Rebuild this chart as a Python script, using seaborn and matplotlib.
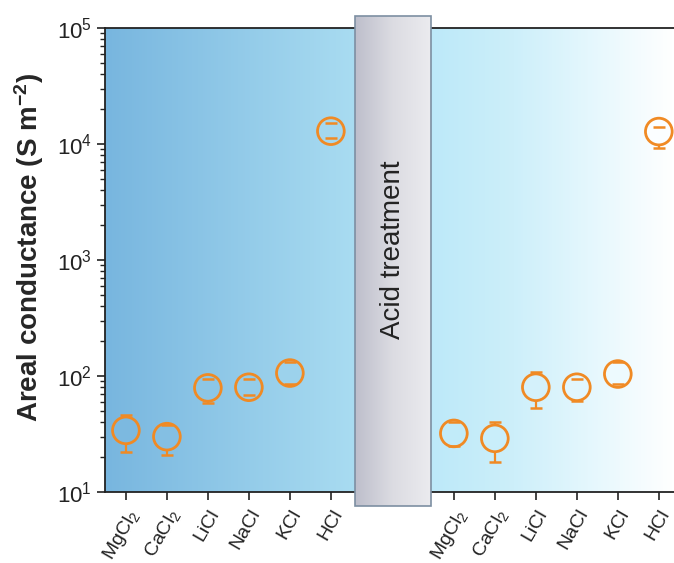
import numpy as np
import pandas as pd
import matplotlib
matplotlib.use("Agg")
import matplotlib.pyplot as plt
import seaborn as sns
from matplotlib.colors import LinearSegmentedColormap
from matplotlib.patches import Rectangle
import matplotlib.ticker as mticker

sns.set_style("ticks")
plt.rcParams['font.family'] = ['Liberation Sans', 'DejaVu Sans']
plt.rcParams['mathtext.fontset'] = 'custom'
plt.rcParams['mathtext.rm'] = 'Liberation Sans'
plt.rcParams['mathtext.it'] = 'Liberation Sans:italic'
plt.rcParams['mathtext.bf'] = 'Liberation Sans:bold'

# ---- data ----
salts = ["MgCl$_2$", "CaCl$_2$", "LiCl", "NaCl", "KCl", "HCl"]
before_val = [34, 30, 79, 80, 106, 12900]
before_lo = [22, 21, 58, 68, 85, 11200]
before_hi = [46, 38, 95, 94, 132, 15100]
after_val = [32, 29, 80, 80, 104, 12800]
after_lo = [25, 18, 53, 61, 85, 9250]
after_hi = [40, 40, 108, 95, 132, 14000]

pos_before = np.arange(6)
pos_after = np.arange(6) + 8

df = pd.DataFrame({
    "pos": np.concatenate([pos_before, pos_after]),
    "val": before_val + after_val,
    "lo": before_lo + after_lo,
    "hi": before_hi + after_hi,
})

orange = "#f08a24"
XMIN, XMAX = -0.51, 13.37

fig = plt.figure(figsize=(6.74, 5.63), dpi=100)
ax = fig.add_axes([105/674, 1-492/563, 569/674, 464/563])

ax.set_yscale("log")
ax.set_ylim(10, 1e5)
ax.set_xlim(XMIN, XMAX)

# background gradient
cmap = LinearSegmentedColormap.from_list("bg", [
    (0.0, "#78b6df"), (0.44, "#a9dcf1"), (0.57, "#bce9f9"),
    (0.72, "#cdeffa"), (0.85, "#e4f7fd"), (1.0, "#ffffff")])
grad = np.linspace(0, 1, 512).reshape(1, -1)
ax.imshow(grad, cmap=cmap, aspect="auto", extent=[0, 1, 0, 1],
          transform=ax.transAxes, zorder=0)

# error bars: stems below markers, caps above
eb = ax.errorbar(df["pos"], df["val"],
                 yerr=[df["val"] - df["lo"], df["hi"] - df["val"]],
                 fmt="none", ecolor=orange, elinewidth=1.6, capsize=4.5,
                 capthick=1.8)
for c in eb[2]:
    c.set_zorder(3)
for c in eb[1]:
    c.set_zorder(6)

face = [cmap((p - XMIN) / (XMAX - XMIN)) for p in df["pos"]]
sns.scatterplot(data=df, x="pos", y="val", ax=ax, marker="o", s=370,
                color=face, edgecolor=orange, linewidth=2.0, zorder=5,
                legend=False)
ax.collections[-1].set_facecolors(face)

# acid treatment box
box_ax = fig.add_axes([0, 0, 1, 1], zorder=3)
box_ax.set_xlim(0, 674); box_ax.set_ylim(563, 0); box_ax.axis("off")
boxgrad = LinearSegmentedColormap.from_list("box", ["#bdbecb", "#dcdce2", "#ebebef"])
box_ax.imshow(np.linspace(0, 1, 256).reshape(1, -1), cmap=boxgrad, aspect="auto",
              extent=[355, 431, 506, 16], zorder=1)
box_ax.add_patch(Rectangle((355, 16), 76, 490, fill=False, edgecolor="#7d8fa2", lw=1.2, zorder=2))
box_ax.text(393, 250, "Acid treatment", rotation=90, ha="center", va="center",
            fontsize=20, color="#222222")

ax.set_xticks(np.concatenate([pos_before, pos_after]))
ax.set_xticklabels(salts + salts, rotation=60, ha="right", rotation_mode="anchor",
                   fontsize=14, color="#222222")
ax.yaxis.set_major_locator(mticker.LogLocator(base=10, numticks=10))
ax.yaxis.set_minor_locator(mticker.LogLocator(base=10, subs=np.arange(2, 10), numticks=10))
ax.yaxis.set_minor_formatter(mticker.NullFormatter())
ax.tick_params(axis="y", which="major", labelsize=16, length=6, width=1.2, direction="out", colors="#222222")
ax.tick_params(axis="y", which="minor", length=3.5, width=1.0, direction="out", colors="#222222")
ax.tick_params(axis="x", length=6, width=1.2, direction="out", colors="#222222", pad=4)
ax.set_ylabel("Areal conductance (S m$^{\\mathbf{-2}}$)", fontsize=20, fontweight="bold")
ax.yaxis.set_label_coords(-0.104, 0.528)
ax.set_xlabel("")

for s in ["left", "bottom", "top"]:
    ax.spines[s].set_linewidth(1.3)
    ax.spines[s].set_color("#222222")
ax.spines["right"].set_visible(False)

fig.savefig("out.png", dpi=100)
